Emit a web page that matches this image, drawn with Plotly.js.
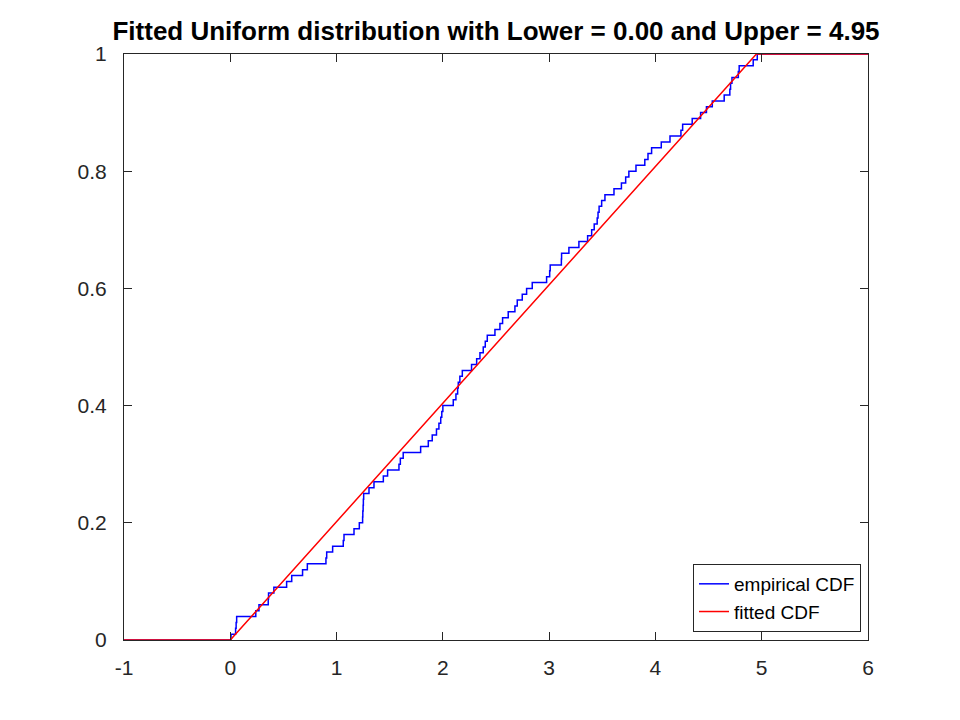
<!DOCTYPE html>
<html>
<head>
<meta charset="utf-8">
<script src="https://cdn.plot.ly/plotly-3.0.1.min.js"></script>
<style>body{margin:0;background:#fff}#chart{width:960px;height:720px}</style>
</head>
<body>
<div id="chart"></div>
<script>
// Empirical CDF: jump positions and levels after each jump
const ecdfX = [-1, 0.007, 0.05, 0.055, 0.06, 0.24, 0.27, 0.357, 0.36, 0.41, 0.53, 0.578, 0.68, 0.725, 0.90, 0.907, 0.963, 1.063, 1.07, 1.164, 1.214, 1.245, 1.247, 1.25, 1.252, 1.255, 1.305, 1.352, 1.44, 1.48, 1.587, 1.60, 1.627, 1.791, 1.863, 1.90, 1.94, 1.963, 1.98, 1.99, 2.0, 2.098, 2.123, 2.139, 2.145, 2.16, 2.183, 2.27, 2.318, 2.349, 2.38, 2.399, 2.418, 2.49, 2.537, 2.562, 2.615, 2.678, 2.70, 2.747, 2.788, 2.841, 2.976, 3.005, 3.01, 3.115, 3.117, 3.186, 3.28, 3.362, 3.40, 3.424, 3.452, 3.46, 3.47, 3.494, 3.525, 3.61, 3.68, 3.72, 3.75, 3.817, 3.90, 3.93, 3.964, 4.055, 4.137, 4.24, 4.256, 4.346, 4.425, 4.48, 4.535, 4.647, 4.70, 4.707, 4.72, 4.78, 4.788, 4.92, 4.958, 6];
const ecdfY = [0, 0.01, 0.02, 0.03, 0.04, 0.05, 0.06, 0.07, 0.08, 0.09, 0.10, 0.11, 0.12, 0.13, 0.14, 0.15, 0.16, 0.17, 0.18, 0.19, 0.20, 0.21, 0.22, 0.23, 0.24, 0.25, 0.26, 0.27, 0.28, 0.29, 0.30, 0.31, 0.32, 0.33, 0.34, 0.35, 0.36, 0.37, 0.38, 0.39, 0.40, 0.41, 0.42, 0.43, 0.44, 0.45, 0.46, 0.47, 0.48, 0.49, 0.50, 0.51, 0.52, 0.53, 0.54, 0.55, 0.56, 0.57, 0.58, 0.59, 0.60, 0.61, 0.62, 0.63, 0.64, 0.65, 0.66, 0.67, 0.68, 0.69, 0.70, 0.71, 0.72, 0.73, 0.74, 0.75, 0.76, 0.77, 0.78, 0.79, 0.80, 0.81, 0.82, 0.83, 0.84, 0.85, 0.86, 0.87, 0.88, 0.89, 0.90, 0.91, 0.92, 0.93, 0.94, 0.95, 0.96, 0.97, 0.98, 0.99, 1.0, 1.0];
// Fitted uniform CDF
const fitX = [-1, 0, 4.95, 6];
const fitY = [0, 0, 1, 1];
const xTicks = [-1, 0, 1, 2, 3, 4, 5, 6];
const yTicks = [0, 0.2, 0.4, 0.6, 0.8, 1];
const yTickText = ['0', '0.2', '0.4', '0.6', '0.8', '1'];

const font = 'Liberation Sans, Arial, Helvetica, sans-serif';
const traces = [
  {x: ecdfX, y: ecdfY, type: 'scatter', mode: 'lines', line: {shape: 'hv', color: '#0000ff', width: 1.5}, name: 'empirical CDF'},
  {x: fitX, y: fitY, type: 'scatter', mode: 'lines', line: {color: '#ff0000', width: 1.5}, name: 'fitted CDF'}
];
const axisCommon = {
  showgrid: false, zeroline: false, showline: true, mirror: 'allticks',
  linecolor: '#262626', linewidth: 1, ticks: 'inside', ticklen: 8, tickcolor: '#262626',
  tickfont: {family: font, size: 21, color: '#262626'}
};
const layout = {
  width: 960, height: 720,
  margin: {l: 124, r: 92, t: 54, b: 80},
  paper_bgcolor: '#fff', plot_bgcolor: '#fff',
  title: {text: '<b>Fitted Uniform distribution with Lower = 0.00 and Upper = 4.95</b>', font: {family: font, size: 26, color: '#000'}, x: 0.5167, xanchor: 'center', y: 0.957, yanchor: 'middle'},
  xaxis: Object.assign({}, axisCommon, {range: [-1, 6], tickvals: xTicks, ticktext: xTicks.map(String), ticklabelstandoff: 9}),
  yaxis: Object.assign({}, axisCommon, {range: [0, 1], tickvals: yTicks, ticktext: yTickText, ticklabelstandoff: 12}),
  showlegend: true,
  legend: {x: 0.9906, y: 0.0137, xanchor: 'right', yanchor: 'bottom', bgcolor: '#fff', bordercolor: '#262626', borderwidth: 1, font: {family: font, size: 19, color: '#000'}, tracegroupgap: 0, itemwidth: 30}
};
Plotly.newPlot('chart', traces, layout, {displayModeBar: false, staticPlot: true});
</script>
</body>
</html>
